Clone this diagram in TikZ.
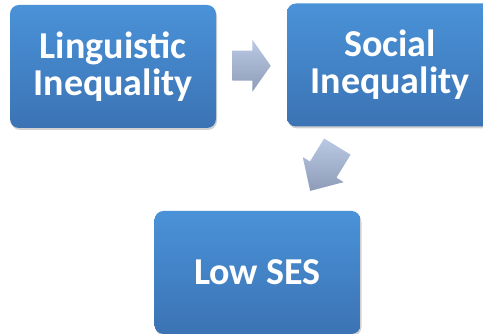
\documentclass[tikz,border=0pt]{standalone}
\usepackage{fontspec}
\setmainfont{Carlito}
\usetikzlibrary{shadows,calc}

\definecolor{boxtop}{HTML}{4A92D8}
\definecolor{boxbot}{HTML}{3B73B4}
\definecolor{arrtop}{HTML}{BAC9E3}
\definecolor{arrbot}{HTML}{8E9CB8}

\tikzset{
  stepbox/.style={rectangle, rounded corners=9pt,
    minimum width=206pt, minimum height=123pt,
    top color=boxtop, bottom color=boxbot, draw=none,
    text=white, align=center,
    font=\bfseries\fontsize{38}{37}\selectfont,
    drop shadow={shadow xshift=1pt, shadow yshift=-2pt, opacity=0.25, fill=black!70}},
  flowarrow/.style={top color=arrtop, bottom color=arrbot, draw=none}
}

\begin{document}
\begin{tikzpicture}[x=1pt, y=1pt]
  \useasboundingbox (0,0) rectangle (483,334);

  % process boxes
  \node[stepbox] (ling) at (113,267.5) {Linguistic\\Inequality};
  \node[stepbox] (soc)  at (390,269)   {Social\\Inequality};
  \node[stepbox] (ses)  at (257.5,61.5) {Low SES};

  % block arrow: Linguistic -> Social
  \begin{scope}[shift={($(ling.east)!0.5!(soc.west)$)}]
    \shade[flowarrow] (-19.2,-15) -- (0.9,-15) -- (0.9,-26) -- (19.2,0)
      -- (0.9,26) -- (0.9,15) -- (-19.2,15) -- cycle;
  \end{scope}

  % block arrow: Social -> Low SES
  \begin{scope}[shift={($(soc.south)!0.5!(ses.north)$)}, rotate=238.5]
    \shade[flowarrow] (-26,-15.5) -- (1,-15.5) -- (1,-24) -- (26,0)
      -- (1,24) -- (1,15.5) -- (-26,15.5) -- cycle;
  \end{scope}
\end{tikzpicture}
\end{document}
